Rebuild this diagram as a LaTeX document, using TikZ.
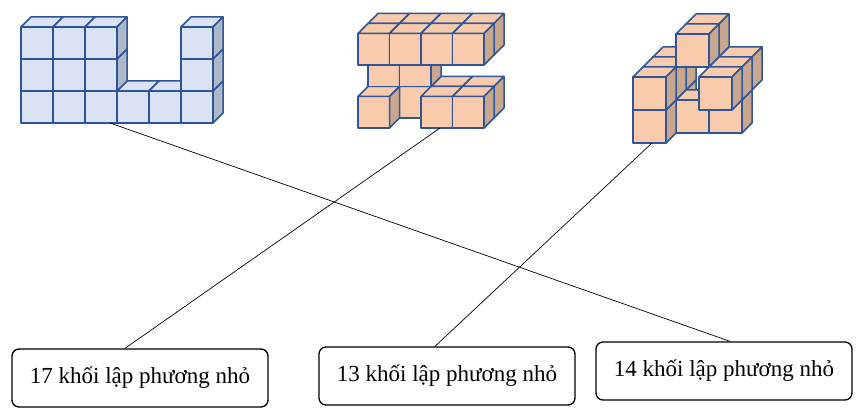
\documentclass[tikz,border=0pt]{standalone}
\usepackage{fontspec}
\setmainfont{Liberation Serif}
\definecolor{cubeblue}{HTML}{DAE3F3}
\definecolor{sideblue}{HTML}{ADB9CA}
\definecolor{cubeorange}{HTML}{F8CBAD}
\definecolor{sideorange}{HTML}{C9A68E}
\definecolor{cubeedge}{HTML}{2F5597}
\tikzset{
  face/.style={draw=cubeedge, line width=1.5pt, line join=round},
  label box/.style={draw, rounded corners=7pt, line width=1.3pt, minimum width=256pt,
    minimum height=58pt, font=\fontsize{23}{26}\selectfont},
  link/.style={line width=0.7pt}
}
% one small cube: origin x, origin y, size, depth, i, j, k, front colour, side colour
\newcommand{\smallcube}[9]{%
  \pgfmathsetmacro{\cx}{#1+#5*#3+#6*#4}%
  \pgfmathsetmacro{\cy}{#2-#7*#3-#6*#4}%
  \fill[#8] (\cx,\cy) rectangle ++(#3,-#3);
  \draw[face, fill=#8] (\cx,\cy-#3) -- ++(#4,-#4) -- ++(#3,0) -- ++(-#4,#4) -- cycle;
  \draw[face, fill=#9] (\cx+#3,\cy) -- ++(0,-#3) -- ++(#4,-#4) -- ++(0,#3) -- cycle;
  \draw[face] (\cx,\cy) rectangle ++(#3,-#3);
}
\begin{document}
\begin{tikzpicture}[x=1pt, y=-1pt]
  \useasboundingbox (0,0) rectangle (867,414);

  % blue cubes
  \foreach \i/\j/\k in {0/0/0,1/0/0,2/0/0,3/0/0,4/0/0,5/0/0,0/0/1,1/0/1,2/0/1,5/0/1,0/0/2,1/0/2,2/0/2,5/0/2}
    {\smallcube{21}{123}{32}{10}{\i}{\j}{\k}{cubeblue}{sideblue}}

  % orange cubes, middle
  \foreach \i/\j/\k in {0/1/0,1/1/0,2/1/0,3/1/0,0/0/0,2/0/0,3/0/0,0/1/1,1/1/1,0/1/2,1/1/2,2/1/2,3/1/2,0/0/2,1/0/2,2/0/2,3/0/2}
    {\smallcube{358}{128}{31.5}{10}{\i}{\j}{\k}{cubeorange}{sideorange}}

  % orange cubes, right
  \foreach \i/\j/\k in {0/2/0,0/2/1,1/2/2,2/2/1,0/1/0,0/1/1,1/1/0,2/1/0,1/1/2,2/1/1,0/0/0,0/0/1,2/0/1}
    {\smallcube{633}{143}{33}{10}{\i}{\j}{\k}{cubeorange}{sideorange}}

  \coordinate (blue) at (110,123);
  \coordinate (mid) at (440,128);
  \coordinate (right) at (652,143);

  \node[label box] (b17) at (140,378) {17 khối lập phương nhỏ};
  \node[label box] (b13) at (447,376) {13 khối lập phương nhỏ};
  \node[label box] (b14) at (724,371) {14 khối lập phương nhỏ};

  \draw[link] (blue) -- ([xshift=6pt]b14.north);
  \draw[link] (mid) -- ([xshift=-15pt]b17.north);
  \draw[link] (right) -- ([xshift=-12pt]b13.north);
\end{tikzpicture}
\end{document}
